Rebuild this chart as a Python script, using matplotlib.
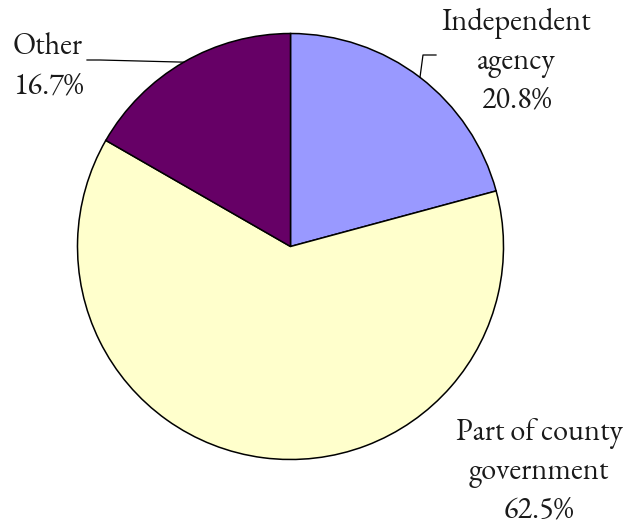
import numpy as np
import matplotlib
matplotlib.use("Agg")
import matplotlib.pyplot as plt

plt.rcParams["font.family"] = ["EB Garamond", "Liberation Serif", "DejaVu Serif"]

labels = ["Independent\nagency", "Part of county\ngovernment", "Other"]
values = [20.8, 62.5, 16.7]
colors = ["#9999FF", "#FFFFCC", "#660066"]

W, H = 626, 527
fig = plt.figure(figsize=(W / 100, H / 100), dpi=100)
ax = fig.add_axes([0, 0, 1, 1])

cx, cy, r = 290.5, H - 246.5, 213
wedges, _ = ax.pie(values, colors=colors, startangle=90, counterclock=False,
                   center=(cx, cy), radius=r,
                   wedgeprops=dict(edgecolor="black", linewidth=1.1))
ax.set_xlim(0, W)
ax.set_ylim(0, H)
ax.set_aspect("equal")
ax.axis("off")

font = dict(fontsize=21.8, color="#1a1a1a", fontweight="normal")

# label positions (pixel layout)
pos = [(516, H - 62, "center"), (539, H - 472, "center"), (13, H - 67, "left")]
for lab, v, (x, y, ha) in zip(labels, values, pos):
    ax.text(x, y, f"{lab}\n{v:.1f}%", ha=ha, va="center", linespacing=1.34, **font)

def edge_pt(w):
    a = np.deg2rad((w.theta1 + w.theta2) / 2)
    return cx + r * np.cos(a), cy + r * np.sin(a)

# leader lines
x0, y0 = edge_pt(wedges[0])
ax.plot([x0, x0 + 3, x0 + 16], [y0, H - 55, H - 55], color="black", lw=0.9)
x2, y2 = edge_pt(wedges[2])
ax.plot([x2, 100, 87], [y2, H - 60, H - 60], color="black", lw=0.9)

fig.savefig("out.png", dpi=100)
